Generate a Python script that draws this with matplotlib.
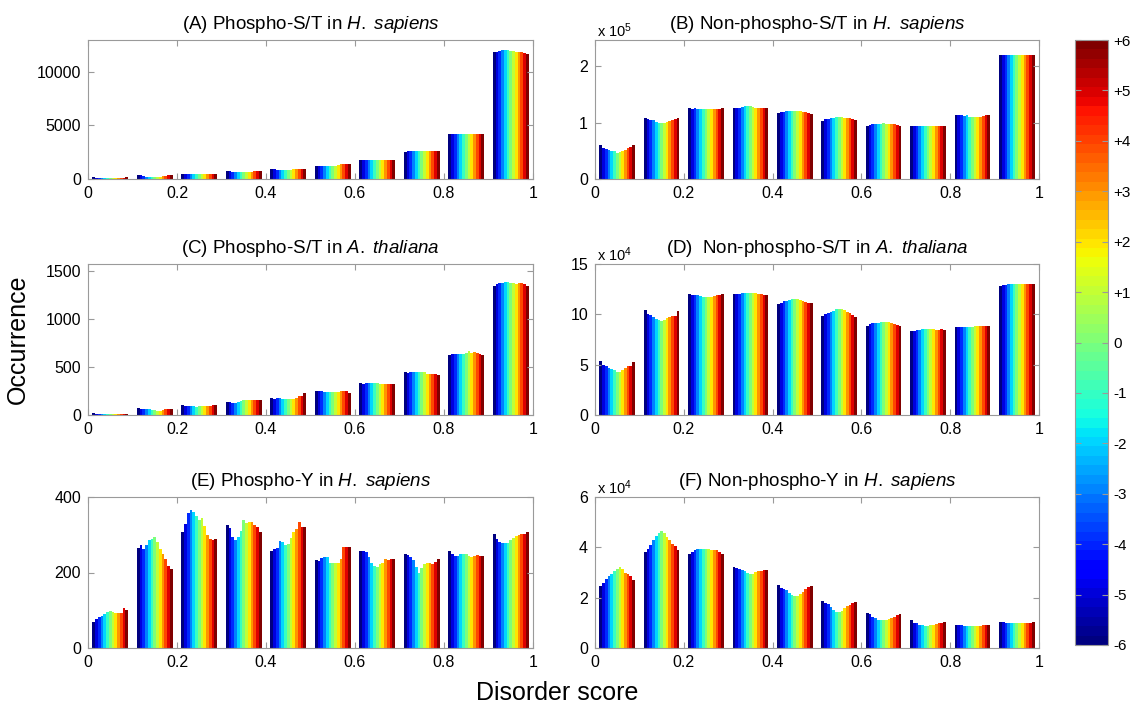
import matplotlib
matplotlib.use("Agg")
import matplotlib.pyplot as plt
import numpy as np
from matplotlib.colors import ListedColormap, Normalize
from matplotlib.cm import ScalarMappable

plt.rcParams['font.family'] = ['Liberation Sans', 'DejaVu Sans']
plt.rcParams['mathtext.fontset'] = 'custom'
plt.rcParams['mathtext.rm'] = 'Liberation Sans'
plt.rcParams['mathtext.it'] = 'Liberation Sans:italic'

# disorder score bins (centres) and window shifts -6..+6
bin_centers = [0.05, 0.15, 0.25, 0.35, 0.45, 0.55, 0.65, 0.75, 0.85, 0.95]
shifts = list(range(-6, 7))

# (A) Phospho-S/T in H. sapiens
phos_st_hs = [
    [150, 130, 120, 120, 120, 120, 120, 120, 120, 125, 130, 130, 140],
    [350, 350, 250, 230, 220, 220, 220, 220, 230, 240, 260, 330, 350],
    [500, 500, 490, 480, 480, 480, 480, 490, 500, 510, 510, 510, 500],
    [750, 720, 650, 630, 630, 630, 630, 640, 650, 680, 760, 780, 780],
    [940, 940, 800, 830, 860, 880, 880, 880, 900, 920, 940, 940, 940],
    [1220, 1220, 1220, 1210, 1210, 1220, 1230, 1240, 1300, 1370, 1380, 1380, 1380],
    [1780, 1780, 1780, 1770, 1770, 1760, 1760, 1760, 1770, 1780, 1790, 1790, 1780],
    [2500, 2620, 2630, 2630, 2630, 2630, 2630, 2630, 2630, 2630, 2640, 2640, 2640],
    [4160, 4160, 4150, 4150, 4150, 4150, 4150, 4150, 4150, 4160, 4160, 4160, 4160],
    [11850, 11850, 11900, 12000, 12000, 11980, 11950, 11900, 11870, 11830, 11800, 11700, 11600],
]
# (B) Non-phospho-S/T in H. sapiens (x 10^5)
nonphos_st_hs = [
    [0.605, 0.55, 0.535, 0.51, 0.50, 0.49, 0.47, 0.48, 0.50, 0.52, 0.55, 0.56, 0.605],
    [1.08, 1.06, 1.05, 1.04, 1.02, 1.00, 1.00, 1.00, 1.02, 1.03, 1.05, 1.07, 1.08],
    [1.26, 1.24, 1.27, 1.25, 1.24, 1.24, 1.24, 1.24, 1.24, 1.24, 1.24, 1.25, 1.27],
    [1.27, 1.27, 1.27, 1.28, 1.29, 1.29, 1.29, 1.28, 1.27, 1.27, 1.27, 1.27, 1.27],
    [1.18, 1.19, 1.19, 1.20, 1.21, 1.21, 1.21, 1.21, 1.20, 1.19, 1.19, 1.18, 1.16],
    [1.03, 1.06, 1.07, 1.08, 1.09, 1.10, 1.10, 1.10, 1.09, 1.08, 1.08, 1.07, 1.05],
    [0.94, 0.96, 0.97, 0.97, 0.97, 0.98, 0.99, 0.98, 0.97, 0.97, 0.97, 0.96, 0.94],
    [0.94, 0.94, 0.94, 0.94, 0.94, 0.94, 0.94, 0.94, 0.94, 0.94, 0.94, 0.94, 0.94],
    [1.13, 1.13, 1.13, 1.12, 1.13, 1.10, 1.10, 1.10, 1.10, 1.10, 1.12, 1.13, 1.13],
    [2.21, 2.21, 2.21, 2.21, 2.21, 2.21, 2.21, 2.21, 2.21, 2.21, 2.21, 2.21, 2.21],
]
# (C) Phospho-S/T in A. thaliana
phos_st_at = [
    [21, 14, 11, 10, 9, 9, 9, 9, 10, 11, 12, 13, 14],
    [73, 62, 60, 59, 58, 56, 52, 46, 45, 55, 59, 59, 59],
    [108, 98, 96, 94, 90, 84, 90, 94, 95, 96, 98, 100, 108],
    [139, 130, 128, 128, 138, 146, 156, 153, 153, 153, 153, 153, 153],
    [180, 170, 175, 180, 168, 166, 166, 166, 170, 180, 196, 200, 229],
    [246, 246, 246, 240, 236, 236, 243, 236, 240, 246, 246, 246, 233],
    [337, 327, 332, 337, 335, 330, 335, 325, 325, 323, 323, 323, 323],
    [448, 434, 445, 448, 448, 448, 448, 445, 430, 430, 428, 428, 413],
    [625, 635, 635, 635, 635, 635, 648, 670, 640, 650, 640, 635, 625],
    [1340, 1360, 1375, 1375, 1378, 1385, 1375, 1368, 1360, 1375, 1375, 1360, 1337],
]
# (D) Non-phospho-S/T in A. thaliana (x 10^4)
nonphos_st_at = [
    [5.4, 5.0, 4.85, 4.65, 4.55, 4.45, 4.3, 4.25, 4.45, 4.7, 4.85, 4.85, 5.25],
    [10.4, 10.05, 9.9, 9.75, 9.55, 9.4, 9.37, 9.4, 9.6, 9.75, 9.85, 9.85, 10.3],
    [12.05, 11.95, 11.95, 11.9, 11.8, 11.75, 11.75, 11.75, 11.75, 11.8, 11.9, 11.95, 12.05],
    [12.0, 12.05, 12.05, 12.1, 12.15, 12.15, 12.15, 12.15, 12.1, 12.0, 12.0, 11.9, 11.9],
    [11.05, 11.15, 11.3, 11.35, 11.45, 11.55, 11.55, 11.5, 11.4, 11.3, 11.2, 11.15, 11.1],
    [9.85, 10.05, 10.15, 10.2, 10.35, 10.5, 10.55, 10.5, 10.4, 10.25, 10.1, 9.95, 9.7],
    [8.8, 9.05, 9.1, 9.1, 9.1, 9.2, 9.25, 9.25, 9.2, 9.15, 9.05, 8.95, 8.85],
    [8.3, 8.35, 8.45, 8.45, 8.5, 8.5, 8.5, 8.5, 8.5, 8.4, 8.4, 8.5, 8.4],
    [8.7, 8.7, 8.7, 8.7, 8.7, 8.7, 8.75, 8.8, 8.8, 8.8, 8.8, 8.8, 8.8],
    [12.8, 12.9, 12.95, 13.0, 13.05, 13.05, 13.05, 13.05, 13.05, 13.05, 13.05, 13.05, 13.05],
]
# (E) Phospho-Y in H. sapiens
phos_y_hs = [
    [70, 78, 82, 86, 90, 95, 98, 95, 94, 94, 93, 106, 100],
    [266, 272, 262, 272, 285, 290, 295, 280, 262, 248, 237, 218, 208],
    [308, 328, 358, 366, 360, 350, 340, 345, 322, 300, 290, 285, 288],
    [325, 318, 295, 285, 295, 310, 340, 330, 335, 335, 327, 320, 307],
    [258, 262, 265, 283, 282, 272, 276, 292, 308, 316, 333, 320, 320],
    [233, 230, 239, 240, 240, 226, 226, 226, 226, 236, 268, 268, 268],
    [258, 258, 253, 240, 225, 218, 214, 222, 226, 236, 232, 236, 236],
    [249, 247, 242, 233, 214, 198, 211, 222, 226, 226, 222, 229, 237],
    [258, 250, 243, 245, 248, 250, 248, 243, 240, 244, 246, 243, 243],
    [301, 290, 282, 278, 278, 278, 286, 292, 298, 300, 302, 302, 308],
]
# (F) Non-phospho-Y in H. sapiens (x 10^4)
nonphos_y_hs = [
    [2.45, 2.6, 2.75, 2.85, 2.95, 3.05, 3.15, 3.2, 3.15, 3.0, 2.95, 2.85, 2.7],
    [3.8, 3.95, 4.1, 4.3, 4.45, 4.58, 4.65, 4.55, 4.4, 4.3, 4.12, 4.05, 3.88],
    [3.75, 3.8, 3.88, 3.92, 3.92, 3.92, 3.92, 3.92, 3.9, 3.88, 3.88, 3.82, 3.75],
    [3.22, 3.18, 3.12, 3.1, 3.05, 2.97, 2.93, 2.95, 3.03, 3.05, 3.05, 3.1, 3.1],
    [2.5, 2.4, 2.35, 2.3, 2.2, 2.1, 2.05, 2.08, 2.15, 2.22, 2.35, 2.42, 2.47],
    [1.85, 1.8, 1.75, 1.62, 1.5, 1.45, 1.45, 1.48, 1.58, 1.65, 1.72, 1.78, 1.82],
    [1.4, 1.35, 1.25, 1.18, 1.12, 1.1, 1.1, 1.12, 1.15, 1.2, 1.25, 1.3, 1.35],
    [1.1, 1.0, 0.98, 0.93, 0.9, 0.88, 0.88, 0.9, 0.93, 0.95, 0.98, 1.0, 1.04],
    [0.93, 0.93, 0.9, 0.88, 0.88, 0.88, 0.88, 0.88, 0.88, 0.88, 0.9, 0.9, 0.93],
    [1.05, 1.05, 1.0, 1.0, 1.0, 1.0, 0.99, 0.99, 1.0, 1.0, 1.0, 1.0, 1.05],
]

titles = [
    r'(A) Phospho-S/T in $\mathit{H.\ sapiens}$',
    r'(B) Non-phospho-S/T in $\mathit{H.\ sapiens}$',
    r'(C) Phospho-S/T in $\mathit{A.\ thaliana}$',
    r'(D)  Non-phospho-S/T in $\mathit{A.\ thaliana}$',
    r'(E) Phospho-Y in $\mathit{H.\ sapiens}$',
    r'(F) Non-phospho-Y in $\mathit{H.\ sapiens}$',
]
panels = [phos_st_hs, nonphos_st_hs, phos_st_at, nonphos_st_at, phos_y_hs, nonphos_y_hs]
ylims = [12950, 2.47, 1570, 15, 400, 6]
yticks = [[0, 5000, 10000], [0, 1, 2], [0, 500, 1000, 1500], [0, 5, 10, 15],
          [0, 200, 400], [0, 2, 4, 6]]
multipliers = [None, 5, None, 4, None, 4]

W, H = 1133, 707
lefts = [88, 595]
widths = [445, 444]
rows = [(40, 179), (264, 415), (497, 648)]

cmap64 = ListedColormap(plt.cm.jet(np.linspace(0, 1, 64)))
bar_colors = plt.cm.jet(np.linspace(0, 1, len(shifts)))
group_w = 0.08
bar_w = group_w / len(shifts)
box_grey = '#9a9a9a'

fig = plt.figure(figsize=(W / 100, H / 100), dpi=100)

for k, data in enumerate(panels):
    r, c = k // 2, k % 2
    top, bot = rows[r]
    ax = fig.add_axes([lefts[c] / W, 1 - bot / H, widths[c] / W, (bot - top) / H])
    vals = np.array(data)
    for j in range(len(shifts)):
        x = np.array(bin_centers) - group_w / 2 + bar_w * (j + 0.5)
        ax.bar(x, vals[:, j], width=bar_w, color=bar_colors[j], linewidth=0)
    ax.set_xlim(0, 1)
    ax.set_ylim(0, ylims[k])
    ax.set_xticks([0, 0.2, 0.4, 0.6, 0.8, 1])
    ax.set_xticklabels(['0', '0.2', '0.4', '0.6', '0.8', '1'])
    ax.set_yticks(yticks[k])
    ax.set_yticklabels([str(v) for v in yticks[k]])
    ax.tick_params(direction='in', length=4, width=0.8, color=box_grey,
                   labelsize=11.5, top=True, right=True, pad=5)
    for s in ax.spines.values():
        s.set_color(box_grey)
        s.set_linewidth(0.8)
    ax.set_title(titles[k], fontsize=13.5, pad=8)
    if multipliers[k]:
        ax.text(0.005, 1.0, 'x 10$^{%d}$' % multipliers[k], transform=ax.transAxes,
                fontsize=10.5, ha='left', va='bottom')

# colour bar for window shift
cax = fig.add_axes([1075 / W, 1 - 645 / H, 33 / W, 605 / H])
sm = ScalarMappable(norm=Normalize(-6, 6), cmap=cmap64)
cb = fig.colorbar(sm, cax=cax, ticks=shifts)
cb.ax.set_yticklabels([('+%d' % s) if s > 0 else str(s) for s in shifts])
cb.ax.tick_params(direction='in', length=4, color=box_grey, labelsize=11,
                  left=True, right=True, pad=4)
cb.outline.set_edgecolor(box_grey)
cb.outline.set_linewidth(0.8)

fig.text(18 / W, 1 - 339 / H, 'Occurrence', rotation=90, fontsize=18,
         ha='center', va='center')
fig.text(557 / W, 1 - 693 / H, 'Disorder score', fontsize=18,
         ha='center', va='center')

fig.savefig('out.png', dpi=100)
